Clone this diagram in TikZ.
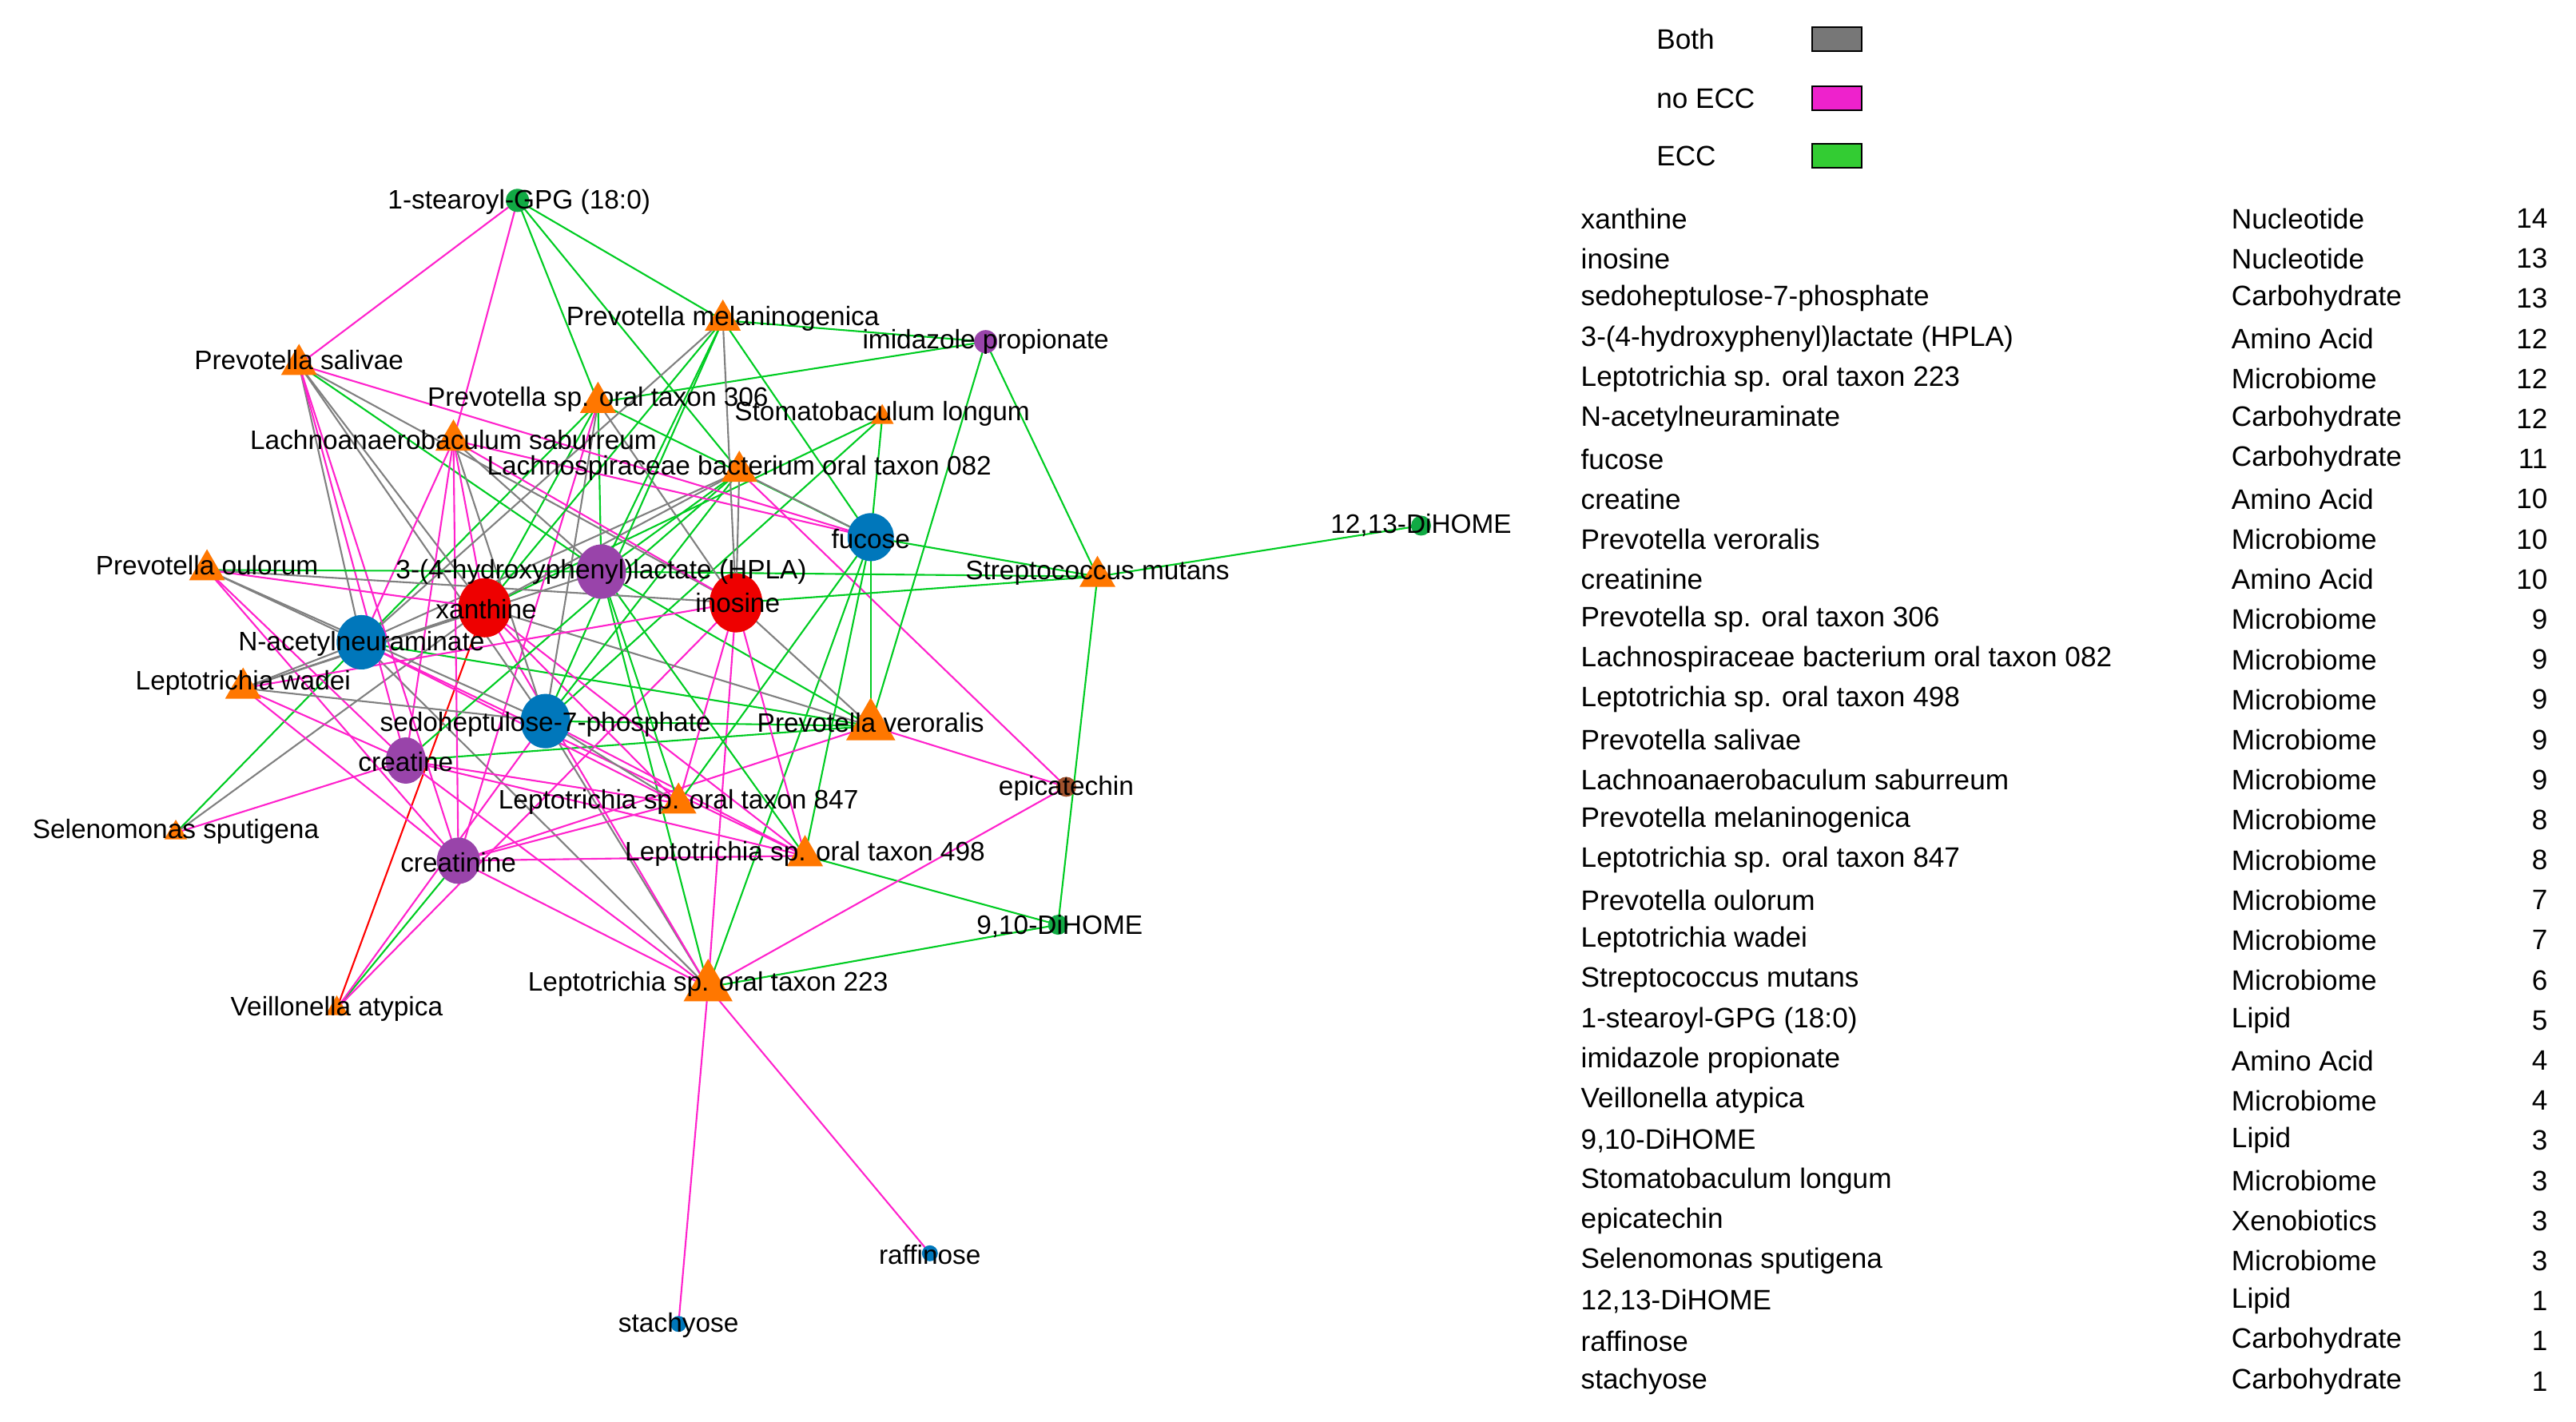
\documentclass[tikz,border=0pt]{standalone}
\usepackage{fontspec}
\setmainfont{Liberation Sans}
\usetikzlibrary{shapes.geometric}
\pgfdeclarelayer{bg}
\pgfsetlayers{bg,main}
\definecolor{eg}{HTML}{00CC22}
\definecolor{em}{HTML}{FF22CC}
\definecolor{eb}{HTML}{808080}
\definecolor{tri}{HTML}{FF7700}
\definecolor{nred}{HTML}{EE0000}
\definecolor{nblue}{HTML}{0077BB}
\definecolor{npur}{HTML}{9944AA}
\definecolor{ngrn}{HTML}{11AA44}
\definecolor{nbrn}{HTML}{A0522D}
\definecolor{kgray}{HTML}{777777}
\definecolor{kmag}{HTML}{EE22CC}
\definecolor{kgrn}{HTML}{33CC33}
\tikzset{
  g/.style={draw=eg,line width=0.6pt},
  m/.style={draw=em,line width=0.6pt},
  b/.style={draw=eb,line width=0.6pt},
  r/.style={draw=red,line width=0.6pt},
  tr/.style={regular polygon,regular polygon sides=3,fill=tri,inner sep=0pt,minimum size=#1},
  tr/.default=0.52cm,
  ci/.style={ellipse,fill=#1,inner sep=0pt},
  lab/.style={font=\fontsize{9.5}{11}\selectfont,inner sep=0pt},
  tab/.style={font=\fontsize{10}{12}\selectfont,inner sep=0pt},
  key/.style={draw=black,line width=0.6pt,minimum width=0.62cm,minimum height=0.3cm,inner sep=0pt}
}
\begin{document}
\begin{tikzpicture}[x=0.02056cm,y=-0.02056cm]
\useasboundingbox (0,0) rectangle (1568,865.3);
% nodes
\node[ci=ngrn,minimum width=0.29cm,minimum height=0.29cm] (G) at (315,122) {};
\node[tr] (PMel) at (440,195) {};
\node[ci=npur,minimum width=0.29cm,minimum height=0.29cm] (Im) at (600,208) {};
\node[tr] (Psal) at (182,222) {};
\node[tr] (P306) at (364,245) {};
\node[tr=0.33cm] (Stoma) at (537,254) {};
\node[tr] (Lachno) at (276,268) {};
\node[tr] (L082) at (450,287) {};
\node[ci=nblue,minimum width=0.58cm,minimum height=0.6cm] (F) at (530,327) {};
\node[ci=ngrn,minimum width=0.25cm,minimum height=0.25cm] (D12) at (865,320) {};
\node[tr] (Poul) at (126,347) {};
\node[ci=npur,minimum width=0.62cm,minimum height=0.68cm] (H) at (366,348) {};
\node[tr] (Smut) at (668,351) {};
\node[ci=nred,minimum width=0.66cm,minimum height=0.74cm] (X) at (295,370) {};
\node[ci=nred,minimum width=0.66cm,minimum height=0.74cm] (I) at (448,367) {};
\node[ci=nblue,minimum width=0.62cm,minimum height=0.68cm] (N) at (220,391) {};
\node[tr] (Lwad) at (148,419) {};
\node[ci=nblue,minimum width=0.62cm,minimum height=0.68cm] (S) at (332,439) {};
\node[tr=0.71cm] (Pver) at (530,442) {};
\node[ci=npur,minimum width=0.5cm,minimum height=0.58cm] (C) at (247,463) {};
\node[ci=nbrn,minimum width=0.25cm,minimum height=0.25cm] (E) at (649,479) {};
\node[tr] (L847) at (413,489) {};
\node[tr=0.33cm] (Selen) at (107,507) {};
\node[ci=npur,minimum width=0.54cm,minimum height=0.58cm] (Cn) at (279,524) {};
\node[tr] (L498) at (490,521) {};
\node[ci=ngrn,minimum width=0.25cm,minimum height=0.25cm] (D9) at (644,563) {};
\node[tr=0.71cm] (L223) at (431,601) {};
\node[tr=0.33cm] (Veill) at (205,614) {};
\node[ci=nblue,minimum width=0.2cm,minimum height=0.2cm] (R) at (566,763) {};
\node[ci=nblue,minimum width=0.2cm,minimum height=0.2cm] (St) at (413,806) {};
% edges
\begin{pgfonlayer}{bg}
\foreach \a/\b/\c in {
 D12/Smut/g, R/L223/m, St/L223/m,
 D9/L498/g, D9/L223/g, D9/Smut/g,
 E/Pver/m, E/L223/m, E/L082/m,
 Im/P306/g, Im/Smut/g, Im/Pver/g, Im/PMel/g,
 G/Psal/m, G/Lachno/m, G/P306/g, G/PMel/g, G/L082/g,
 Smut/F/g, Smut/H/g, Smut/I/g,
 Stoma/F/g, Stoma/S/g, Stoma/X/g,
 Selen/C/m, Selen/N/g, Selen/X/b,
 Veill/Cn/g, Veill/I/m, Veill/S/m, Veill/X/r,
 L223/C/m, L223/Cn/m, L223/S/b, L223/N/b, L223/I/m, L223/H/g, L223/F/g, L223/X/m,
 Pver/X/b, Pver/I/b, Pver/S/g, Pver/N/g, Pver/F/g, Pver/H/g, Pver/Cn/m, Pver/C/g,
 L498/Cn/m, L498/C/m, L498/S/m, L498/N/m, L498/X/m, L498/I/m, L498/F/g, L498/H/g,
 L847/S/b, L847/N/m, L847/X/m, L847/C/m, L847/Cn/m, L847/I/m, L847/H/g, L847/F/g,
 P306/X/g, P306/N/g, P306/H/g, P306/S/b, P306/I/b, P306/Cn/m, P306/F/g,
 L082/F/b, L082/X/b, L082/N/b, L082/H/g, L082/I/b, L082/S/g, L082/C/g,
 Psal/F/m, Psal/N/b, Psal/X/b, Psal/S/b, Psal/H/g, Psal/C/m, Psal/Cn/m, Psal/I/b,
 Lachno/F/m, Lachno/I/m, Lachno/X/m, Lachno/N/m, Lachno/C/m, Lachno/S/b, Lachno/H/b, Lachno/Cn/m,
 PMel/F/g, PMel/X/g, PMel/N/b, PMel/H/g, PMel/I/b, PMel/S/g,
 Poul/H/g, Poul/I/b, Poul/N/b, Poul/C/m, Poul/Cn/m, Poul/S/b, Poul/X/m,
 Lwad/N/b, Lwad/X/b, Lwad/S/b, Lwad/I/m, Lwad/C/m, Lwad/Cn/m, Lwad/H/b}
 \draw[\c] (\a.center) -- (\b.center);
\end{pgfonlayer}
% labels
\foreach \n/\t/\x/\y in {
 G/1-stearoyl-GPG (18:0)/316/123, PMel/Prevotella melaninogenica/440/194,
 Im/imidazole propionate/600/208, Psal/Prevotella salivae/182/219,
 P306/Prevotella sp. oral taxon 306/364/243, Stoma/Stomatobaculum longum/537/252,
 Lachno/Lachnoanaerobaculum saburreum/276/268, L082/Lachnospiraceae bacterium oral taxon 082/450/285,
 F/fucose/530/328, D12/12{,}13-DiHOME/865/320, Poul/Prevotella oulorum/126/344,
 H/3-(4-hydroxyphenyl)lactate (HPLA)/366/348, Smut/Streptococcus mutans/668/349,
 X/xanthine/296/371, I/inosine/449/367, N/N-acetylneuraminate/220/392,
 Lwad/Leptotrichia wadei/148/416, S/sedoheptulose-7-phosphate/332/441,
 Pver/Prevotella veroralis/530/440, C/creatine/247/464, E/epicatechin/649/480,
 L847/Leptotrichia sp. oral taxon 847/413/488, Selen/Selenomonas sputigena/107/506,
 Cn/creatinine/279/525, L498/Leptotrichia sp. oral taxon 498/490/520,
 D9/9{,}10-DiHOME/645/564, L223/Leptotrichia sp. oral taxon 223/431/599,
 Veill/Veillonella atypica/205/614, R/raffinose/566/764, St/stachyose/413/807}
 \node[lab] (l\n) at (\x,\y) {\t};
% legend
\node[tab,anchor=west] (kt1) at (1008,24) {Both};
\node[tab,anchor=west] (kt2) at (1008,60) {no ECC};
\node[tab,anchor=west] (kt3) at (1008,95) {ECC};
\node[key,fill=kgray] (kb1) at (1118,24) {};
\node[key,fill=kmag] (kb2) at (1118,60) {};
\node[key,fill=kgrn] (kb3) at (1118,95) {};
% table
\foreach \i/\a/\b/\c in {
 0/xanthine/Nucleotide/14, 1/inosine/Nucleotide/13,
 2/sedoheptulose-7-phosphate/Carbohydrate/13, 3/3-(4-hydroxyphenyl)lactate (HPLA)/Amino Acid/12,
 4/Leptotrichia sp. oral taxon 223/Microbiome/12, 5/N-acetylneuraminate/Carbohydrate/12,
 6/fucose/Carbohydrate/11, 7/creatine/Amino Acid/10, 8/Prevotella veroralis/Microbiome/10,
 9/creatinine/Amino Acid/10, 10/Prevotella sp. oral taxon 306/Microbiome/9,
 11/Lachnospiraceae bacterium oral taxon 082/Microbiome/9, 12/Leptotrichia sp. oral taxon 498/Microbiome/9,
 13/Prevotella salivae/Microbiome/9, 14/Lachnoanaerobaculum saburreum/Microbiome/9,
 15/Prevotella melaninogenica/Microbiome/8, 16/Leptotrichia sp. oral taxon 847/Microbiome/8,
 17/Prevotella oulorum/Microbiome/7, 18/Leptotrichia wadei/Microbiome/7,
 19/Streptococcus mutans/Microbiome/6, 20/1-stearoyl-GPG (18:0)/Lipid/5,
 21/imidazole propionate/Amino Acid/4, 22/Veillonella atypica/Microbiome/4,
 23/9{,}10-DiHOME/Lipid/3, 24/Stomatobaculum longum/Microbiome/3,
 25/epicatechin/Xenobiotics/3, 26/Selenomonas sputigena/Microbiome/3,
 27/12{,}13-DiHOME/Lipid/1, 28/raffinose/Carbohydrate/1, 29/stachyose/Carbohydrate/1}
{
 \node[tab,anchor=west] (ta\i) at (962,133+24.41*\i) {\a};
 \node[tab,anchor=west] (tb\i) at (1358,133+24.41*\i) {\b};
 \node[tab,anchor=east] (tc\i) at (1551,133+24.41*\i) {\c};
}
\end{tikzpicture}
\end{document}
